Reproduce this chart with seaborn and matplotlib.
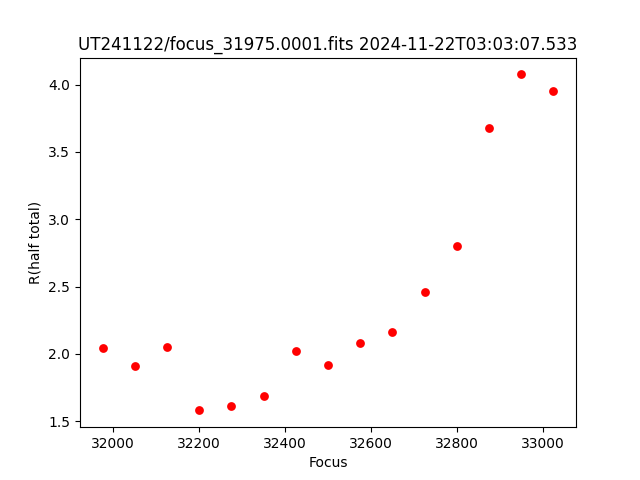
import matplotlib
matplotlib.use("Agg")
import matplotlib.pyplot as plt
import seaborn as sns
import pandas as pd

focus = [31975, 32050, 32125, 32200, 32275, 32350, 32425, 32500,
         32575, 32650, 32725, 32800, 32875, 32950, 33025]
r_half = [2.04, 1.91, 2.05, 1.58, 1.61, 1.685, 2.02, 1.92,
          2.08, 2.16, 2.457, 2.80, 3.68, 4.075, 3.95]

df = pd.DataFrame({'Focus': focus, 'R': r_half})

fig, ax = plt.subplots(figsize=(6.4, 4.8), dpi=100)
sns.scatterplot(data=df, x='Focus', y='R', color='red', s=40, linewidth=0, ax=ax)
ax.set_xlabel('Focus')
ax.set_ylabel('R(half total)')
ax.set_title('UT241122/focus_31975.0001.fits 2024-11-22T03:03:07.533')
fig.savefig('out.png')
